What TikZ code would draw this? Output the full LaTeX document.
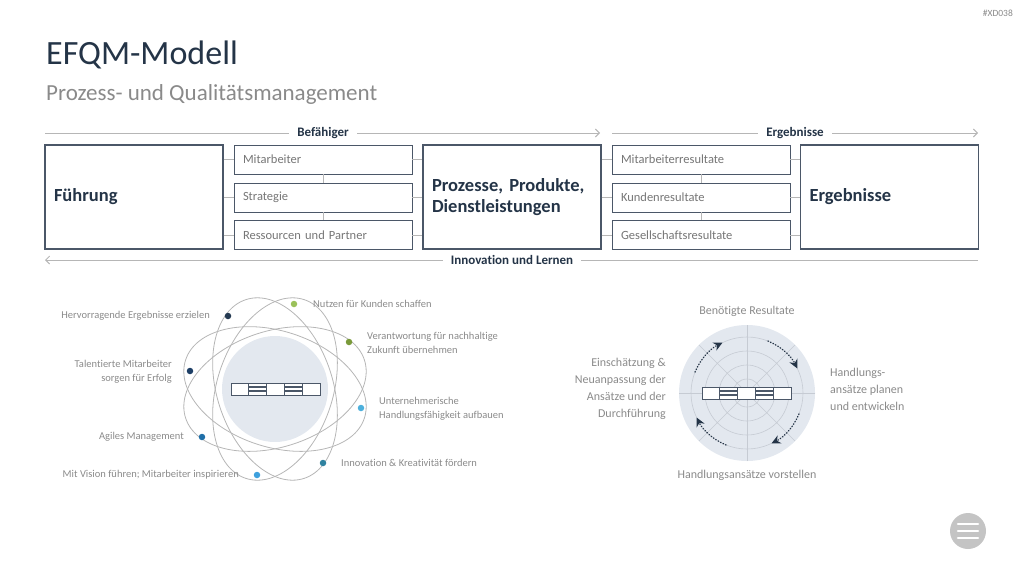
\documentclass[tikz,border=0pt]{standalone}
\usepackage{fontspec}
\setmainfont{Carlito}[Ligatures=NoCommon]
\usetikzlibrary{arrows.meta}
\frenchspacing

\definecolor{navy}{HTML}{243447}
\definecolor{boxline}{HTML}{4B5768}
\definecolor{rulegray}{HTML}{B6B6B6}
\definecolor{labelgray}{HTML}{8A8A8A}
\definecolor{boxtext}{HTML}{767676}
\definecolor{paleblue}{HTML}{E3E8EF}
\definecolor{gridgray}{HTML}{C6CBD3}
\definecolor{menugray}{HTML}{C4C4C4}
\definecolor{dotlime}{HTML}{9BC15A}
\definecolor{dotolive}{HTML}{7A9A3A}
\definecolor{dotnavy}{HTML}{253A52}
\definecolor{dotdeep}{HTML}{1E3F66}
\definecolor{dotsky}{HTML}{4DB0DC}
\definecolor{dotblue}{HTML}{1F6FA8}
\definecolor{dotteal}{HTML}{2F82A0}
\definecolor{dotaqua}{HTML}{3EA0DD}

\tikzset{
  minibar/.pic={
    \foreach \i in {0,...,4}
      \draw[draw=boxline, line width=0.9pt, fill=white] (\i*17.8,0) rectangle ++(17.8,12);
    \foreach \i in {1,3} {
      \draw[boxline, line width=1.4pt] (\i*17.8,4) -- ++(17.8,0);
      \draw[boxline, line width=1.4pt] (\i*17.8,8) -- ++(17.8,0);
    }
  }
}

\begin{document}
\begin{tikzpicture}[x=1pt,y=-1pt,
  bigbox/.style={draw=boxline, line width=1.1pt, fill=white, minimum width=178pt,
    minimum height=104pt, text width=160pt, inner xsep=9pt, align=left,
    font=\fontsize{18.5}{21}\selectfont\bfseries, text=navy},
  smallbox/.style={draw=boxline, line width=0.9pt, fill=white, minimum width=178pt,
    minimum height=29pt, text width=160pt, inner xsep=9pt, align=left,
    font=\fontsize{12.5}{15}\selectfont, text=boxtext},
  stub/.style={draw=rulegray, line width=0.8pt},
  flow/.style={draw=rulegray, line width=0.9pt, -{Straight Barb[length=4pt,width=8pt]}},
  flowlabel/.style={fill=white, inner xsep=8pt, font=\fontsize{13}{15}\selectfont\bfseries, text=navy},
  orbit/.style={draw=rulegray, line width=0.8pt},
  dot/.style={circle, inner sep=0pt, minimum size=6.5pt},
  tag/.style={font=\fontsize{10.5}{14}\selectfont, text=labelgray, inner sep=0pt},
  cyclabel/.style={font=\fontsize{12}{17}\selectfont, text=labelgray, inner sep=0pt},
  cycarrow/.style={draw=navy, line width=1.4pt, line cap=round, dash pattern=on 0.4pt off 2.4pt,
    -{Stealth[length=9pt,width=9pt,inset=3pt,line width=0pt]}},
  grid/.style={draw=gridgray, line width=0.6pt}
]
\useasboundingbox (0,0) rectangle (1024,576);

% titles
\node[anchor=base west, inner sep=0pt, font=\fontsize{34}{38}\selectfont, text=navy] (title) at (46,64) {EFQM-Modell};
\node[anchor=base west, inner sep=0pt, font=\fontsize{23}{27}\selectfont, text=labelgray] (subtitle) at (46,100) {Prozess- und Qualitätsmanagement};
\node[anchor=east, inner sep=0pt, font=\fontsize{9.5}{11}\selectfont, text=labelgray] (code) at (1013,13) {\#XD038};

% flow arrows
\coordinate (b0) at (45,133);
\coordinate (b1) at (600,133);
\coordinate (e0) at (612,133);
\coordinate (e1) at (978,133);
\coordinate (i0) at (978,260);
\coordinate (i1) at (45,260);
\draw[flow] (b0) -- (b1);
\draw[flow] (e0) -- (e1);
\draw[flow] (i0) -- (i1);
\node[flowlabel] (befaehiger) at (323,133) {Befähiger};
\node[flowlabel] (ergeb) at (795,133) {Ergebnisse};
\node[flowlabel] (innov) at (512,260) {Innovation und Lernen};

% model boxes
\node[bigbox] (fuehrung) at (134,197) {Führung};
\node[smallbox] (mitarb) at (323,159.5) {Mitarbeiter};
\node[smallbox] (strat) at (323,197.5) {Strategie};
\node[smallbox] (ressour) at (323,235) {Ressourcen und Partner};
\node[bigbox] (prozesse) at (512,197) {Prozesse, Produkte,\\Dienstleistungen};
\node[smallbox] (mares) at (701,159.5) {Mitarbeiterresultate};
\node[smallbox] (kures) at (701,197.5) {Kundenresultate};
\node[smallbox] (geres) at (701,235) {Gesellschaftsresultate};
\node[bigbox] (ergebnisse) at (889.5,197) {Ergebnisse};

\foreach \n in {mitarb,strat,ressour} {
  \draw[stub] (fuehrung.east |- \n.west) -- (\n.west);
  \draw[stub] (\n.east) -- (prozesse.west |- \n.east);
}
\foreach \n in {mares,kures,geres} {
  \draw[stub] (prozesse.east |- \n.west) -- (\n.west);
  \draw[stub] (\n.east) -- (ergebnisse.west |- \n.east);
}
\draw[stub] (mitarb.south) -- (strat.north);
\draw[stub] (strat.south) -- (ressour.north);
\draw[stub] (mares.south) -- (kures.north);
\draw[stub] (kures.south) -- (geres.north);

% atom of excellence
\coordinate (atom) at (275,389);
\fill[paleblue] (atom) circle (53);
\foreach \a in {18,-18,72,108}
  \draw[orbit, rotate around={\a:(atom)}] (atom) ellipse (94 and 58);
\pic at (231,383) {minibar};

\node[dot, fill=dotlime] (d1) at (294,304) {};
\node[dot, fill=dotnavy] (d2) at (228,316) {};
\node[dot, fill=dotolive] (d3) at (349,342) {};
\node[dot, fill=dotdeep] (d4) at (190,371) {};
\node[dot, fill=dotsky] (d5) at (361,408) {};
\node[dot, fill=dotblue] (d6) at (202,437) {};
\node[dot, fill=dotteal] (d7) at (323,463) {};
\node[dot, fill=dotaqua] (d8) at (257,475) {};

\node[tag, anchor=west] (t1) at (313,304) {Nutzen für Kunden schaffen};
\node[tag, anchor=east] (t2) at (210,316) {Hervorragende Ergebnisse erzielen};
\node[tag, anchor=west, align=left] (t3) at (367,343) {Verantwortung für nachhaltige\\Zukunft übernehmen};
\node[tag, anchor=east, align=right] (t4) at (172,372) {Talentierte Mitarbeiter\\sorgen für Erfolg};
\node[tag, anchor=west, align=left] (t5) at (379,409) {Unternehmerische\\Handlungsfähigkeit aufbauen};
\node[tag, anchor=east] (t6) at (184,437) {Agiles Management};
\node[tag, anchor=west] (t7) at (341,463) {Innovation \& Kreativität fördern};
\node[tag, anchor=east] (t8) at (239,475) {Mit Vision führen; Mitarbeiter inspirieren};

% RADAR cycle
\coordinate (cyc) at (747,393);
\fill[paleblue] (cyc) circle (68);
\foreach \r in {14,28,42,56}
  \draw[grid] (cyc) circle (\r);
\foreach \a in {0,45,90,135}
  \draw[grid] ([shift={(\a:68)}]cyc) -- ([shift={(\a+180:68)}]cyc);
\pic at (702,387) {minibar};

\draw[cycarrow] ([shift={(-158:56)}]cyc) arc (-158:-116:56);
\draw[cycarrow] ([shift={(-68:56)}]cyc) arc (-68:-26:56);
\draw[cycarrow] ([shift={(22:56)}]cyc) arc (22:64:56);
\draw[cycarrow] ([shift={(112:56)}]cyc) arc (112:154:56);

\node[cyclabel] (r1) at (747,311) {Benötigte Resultate};
\node[cyclabel, anchor=east, align=right] (r2) at (666,389) {Einschätzung \&\\Neuanpassung der\\Ansätze und der\\Durchführung};
\node[cyclabel, anchor=west, align=left] (r3) at (830,389) {Handlungs-\\ansätze planen\\und entwickeln};
\node[cyclabel] (r4) at (747,475) {Handlungsansätze vorstellen};

% menu button
\node[circle, fill=menugray, minimum size=36pt, inner sep=0pt] (menu) at (968,531) {};
\foreach \dy in {-7,0,7}
  \draw[white, line width=2.6pt, line cap=round] ([shift={(-10,\dy)}]menu.center) -- ([shift={(10,\dy)}]menu.center);
\end{tikzpicture}
\end{document}
